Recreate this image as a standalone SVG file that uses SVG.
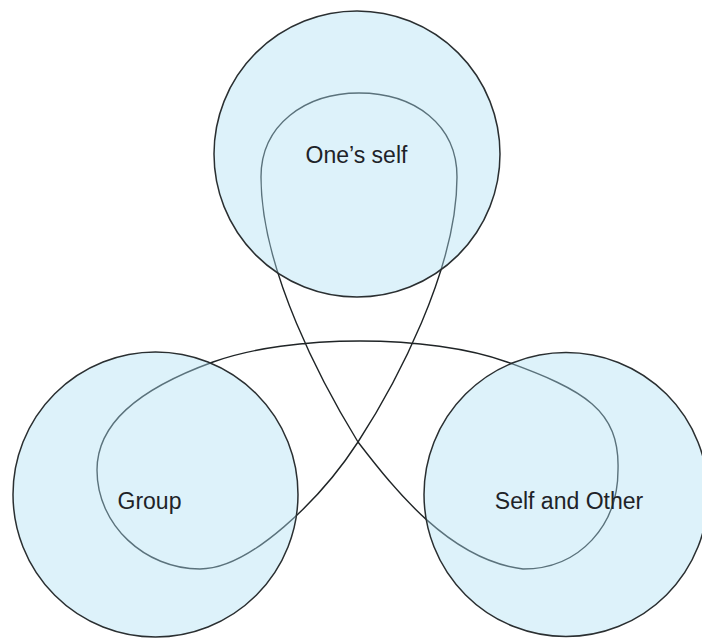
<svg xmlns="http://www.w3.org/2000/svg" width="702" height="639" viewBox="0 0 702 639">
  <style>
    .node { fill: rgb(173,225,244); fill-opacity: 0.42; stroke: #2a2f31; stroke-width: 1.5; }
    .label { font-family: "Liberation Sans", Arial, sans-serif; font-size: 23px; fill: #1e2328; text-anchor: middle; }
    .loop { fill: none; stroke: #1f2426; stroke-width: 1.4; }
  </style>
  <rect width="702" height="639" fill="#ffffff"/>
  <g id="connectors">
    <path class="loop" d="M359,93 C305,93 261,125 261,177 C261,270 323,385 358,442 C395,490 450,560 523,569 C580,569 618,525 618,470 C620,410 584,390 507,362 C430,334 290,334 213,362 C136,390 97,425 97,470 C97,525 145,569 200,569 C250,569 321,499 358,442 C395,385 457,270 457,177 C457,125 415,93 359,93 Z"/>
  </g>
  <g id="node-ones-self">
    <circle class="node" cx="357" cy="154" r="143"/>
    <text class="label" x="356.5" y="163">One’s self</text>
  </g>
  <g id="node-group">
    <circle class="node" cx="155.5" cy="494.5" r="142.5"/>
    <text class="label" x="149.5" y="509">Group</text>
  </g>
  <g id="node-self-and-other">
    <circle class="node" cx="566" cy="494.5" r="142"/>
    <text class="label" x="569" y="509">Self and Other</text>
  </g>
</svg>
